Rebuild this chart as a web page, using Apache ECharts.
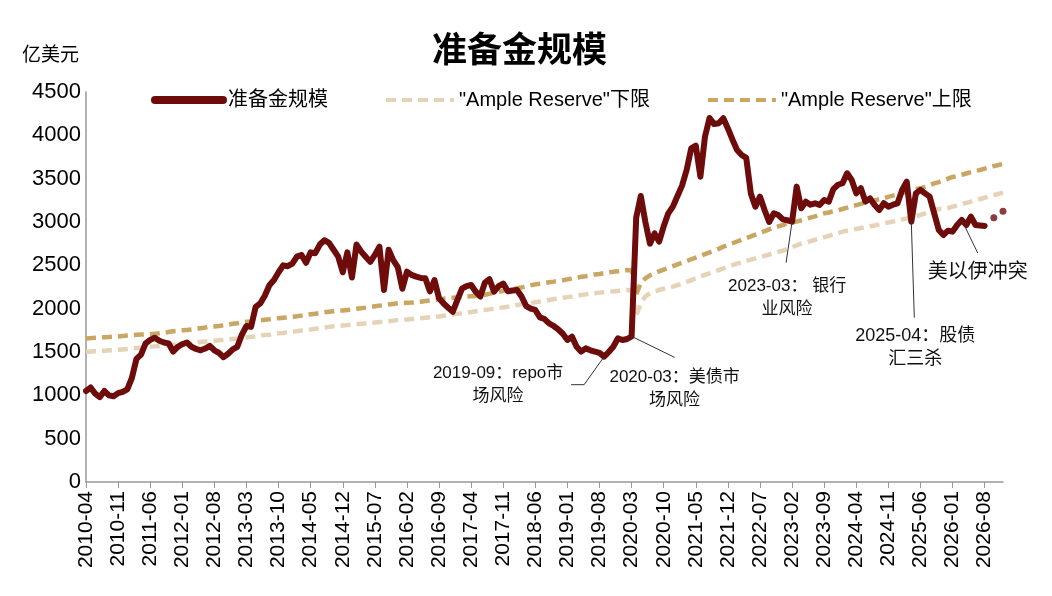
<!DOCTYPE html>
<html>
<head>
<meta charset="utf-8">
<script src="https://cdn.jsdelivr.net/npm/echarts@6/dist/echarts.min.js"></script>
<style>
  html, body { margin: 0; padding: 0; background: #fff; }
  #chart { width: 1052px; height: 596px; }
</style>
</head>
<body>
<div id="chart"></div>
<script>
// 月度类目 2010-04 ~ 2026-12
var months = [];
for (var y = 2010; y <= 2026; y++) {
    for (var mo = 1; mo <= 12; mo++) {
        if (y == 2010 && mo < 4) continue;
        months.push(y + '-' + (mo < 10 ? '0' + mo : mo));
    }
}

var yTicks = [0, 500, 1000, 1500, 2000, 2500, 3000, 3500, 4000, 4500];

// 准备金规模（亿美元）
var reserves = [
    1050, 1090, 1020, 980, 1050, 1000, 990, 1025, 1040, 1070,
    1200, 1420, 1470, 1600, 1640, 1665, 1630, 1610, 1600, 1505,
    1560, 1590, 1610, 1560, 1535, 1520, 1540, 1570, 1520, 1490,
    1440, 1480, 1530, 1560, 1700, 1800, 1790, 2020, 2060, 2150,
    2270, 2330, 2420, 2500, 2490, 2520, 2600, 2620, 2530, 2650,
    2640, 2740, 2790, 2760, 2680, 2600, 2420, 2650, 2360, 2740,
    2660, 2600, 2540, 2620, 2715, 2216, 2680, 2560, 2480, 2230,
    2427, 2390, 2370, 2355, 2350, 2200, 2330, 2120, 2060, 2010,
    1965, 2100, 2230, 2260, 2273, 2196, 2140, 2300, 2340, 2196,
    2260, 2290, 2200, 2210, 2216, 2140, 2030, 2000, 1985, 1900,
    1880, 1830, 1800, 1760, 1710, 1639, 1677, 1560, 1504, 1542,
    1520, 1504, 1490, 1446, 1500, 1560, 1658, 1639, 1650, 1680,
    3050, 3300, 3000, 2750, 2869, 2773, 2950, 3100, 3177, 3300,
    3420, 3600, 3850, 3880, 3523, 3985, 4200, 4130, 4139, 4197,
    4080, 3950, 3831, 3774, 3740, 3330, 3177, 3293, 3139, 3000,
    3100, 3080, 3030, 3020, 3004, 3408, 3158, 3235, 3200, 3216,
    3196, 3254, 3235, 3380, 3430, 3447, 3562, 3485, 3331, 3389,
    3235, 3273, 3196, 3139, 3216, 3177, 3200, 3216, 3370, 3466,
    3004, 3331, 3370, 3330, 3293, 3100, 2908, 2850, 2900, 2889,
    2966, 3023, 2966, 3062, 2966, 2960, 2954, null, null, null,
    null
];

// 预测点
var forecast = [];
forecast[198] = 3050;
forecast[200] = 3125;

// "Ample Reserve"下限
var lowerBound = [
    1500, 1505, 1510, 1512, 1515, 1520, 1522, 1525, 1530, 1535,
    1540, 1545, 1550, 1555, 1560, 1565, 1570, 1575, 1580, 1585,
    1590, 1598, 1600, 1605, 1610, 1615, 1620, 1625, 1630, 1635,
    1640, 1645, 1650, 1655, 1662, 1668, 1675, 1680, 1688, 1695,
    1700, 1708, 1715, 1720, 1728, 1735, 1740, 1748, 1755, 1760,
    1768, 1775, 1782, 1790, 1798, 1800, 1805, 1810, 1815, 1820,
    1825, 1830, 1835, 1840, 1845, 1850, 1855, 1862, 1868, 1870,
    1875, 1880, 1885, 1890, 1895, 1900, 1905, 1910, 1918, 1925,
    1932, 1940, 1948, 1955, 1962, 1970, 1978, 1985, 1992, 2000,
    2008, 2015, 2022, 2030, 2043, 2050, 2058, 2066, 2075, 2083,
    2092, 2100, 2108, 2116, 2125, 2133, 2141, 2150, 2158, 2165,
    2172, 2178, 2185, 2190, 2195, 2200, 2205, 2210, 2216, 2210,
    1920, 2060, 2140, 2180, 2200, 2215, 2230, 2245, 2254, 2272,
    2290, 2310, 2330, 2350, 2370, 2389, 2408, 2427, 2446, 2465,
    2484, 2503, 2520, 2535, 2550, 2565, 2580, 2595, 2610, 2625,
    2640, 2655, 2670, 2690, 2710, 2730, 2750, 2765, 2780, 2795,
    2810, 2825, 2840, 2855, 2870, 2889, 2900, 2910, 2920, 2930,
    2940, 2950, 2960, 2972, 2985, 2995, 3005, 3018, 3030, 3042,
    3055, 3068, 3081, 3100, 3120, 3139, 3150, 3150, 3160, 3177,
    3190, 3205, 3220, 3235, 3250, 3265, 3280, 3295, 3310, 3325,
    3339
];

// "Ample Reserve"上限
var upperBound = [
    1655, 1660, 1665, 1668, 1670, 1672, 1676, 1680, 1685, 1690,
    1695, 1700, 1702, 1704, 1706, 1710, 1715, 1720, 1730, 1740,
    1745, 1750, 1755, 1760, 1768, 1775, 1782, 1790, 1795, 1800,
    1808, 1815, 1825, 1832, 1840, 1848, 1852, 1858, 1865, 1872,
    1878, 1885, 1890, 1895, 1900, 1906, 1912, 1920, 1928, 1935,
    1942, 1950, 1958, 1965, 1970, 1975, 1980, 1985, 1990, 1998,
    2005, 2012, 2020, 2028, 2035, 2040, 2048, 2055, 2062, 2065,
    2068, 2070, 2075, 2080, 2088, 2095, 2102, 2110, 2115, 2120,
    2125, 2130, 2135, 2140, 2143, 2146, 2150, 2160, 2172, 2185,
    2195, 2205, 2215, 2225, 2235, 2245, 2258, 2270, 2280, 2288,
    2295, 2305, 2312, 2320, 2328, 2338, 2348, 2358, 2368, 2375,
    2385, 2395, 2400, 2410, 2420, 2425, 2432, 2440, 2446, 2440,
    2160, 2300, 2350, 2385, 2410, 2430, 2450, 2470, 2490, 2510,
    2530, 2550, 2570, 2590, 2610, 2630, 2650, 2670, 2690, 2715,
    2735, 2755, 2775, 2795, 2815, 2835, 2855, 2875, 2895, 2915,
    2935, 2950, 2965, 2985, 2995, 3005, 3020, 3035, 3050, 3065,
    3085, 3100, 3110, 3125, 3135, 3150, 3165, 3180, 3195, 3210,
    3225, 3240, 3250, 3262, 3273, 3290, 3305, 3320, 3335, 3350,
    3365, 3378, 3389, 3405, 3425, 3445, 3460, 3480, 3500, 3520,
    3530, 3545, 3560, 3575, 3590, 3600, 3615, 3630, 3645, 3658,
    3670
];

// 事件标注：锚点月份，引线（像素偏移），文字中心偏移
var notes = [
    { month: '2019-09', path: [[0, 0], [-20, 28], [-33, 28]], text: '2019-09：repo市\n场风险', dx: -106, dy: 28, size: 17 },
    { month: '2020-03', path: [[0, 0], [43, 21]], text: '2020-03：美债市\n场风险', dx: 43, dy: 52, size: 17 },
    { month: '2023-02', path: [[0, 0], [-6, 41]], text: '2023-03： 银行\n业风险', dx: -5, dy: 76, size: 17 },
    { month: '2025-04', path: [[0, 0], [3, 96]], text: '2025-04：股债\n汇三杀', dx: 4, dy: 126, size: 18 },
    { month: '2026-03', path: [[0, 0], [16, 33]], text: '美以伊冲突', dx: 16, dy: 52, size: 20 }
];

var FONT = '"Liberation Sans", "Noto Sans CJK SC", sans-serif';
var myChart = echarts.init(document.getElementById('chart'));

var option = {
    backgroundColor: '#fff',
    animation: false,
    title: {
        text: '准备金规模',
        left: 427,
        top: 26,
        textStyle: { fontSize: 35, fontWeight: 'bold', color: '#000', fontFamily: '"Noto Sans CJK SC", sans-serif' }
    },
    legend: {
        data: [
            { name: '准备金规模', lineStyle: { width: 8, cap: 'round' } },
            { name: '"Ample Reserve"下限', lineStyle: { width: 4 } },
            { name: '"Ample Reserve"上限', lineStyle: { width: 4 } }
        ],
        left: 146,
        top: 85,
        itemWidth: 68,
        itemHeight: 14,
        itemGap: 56,
        itemStyle: { opacity: 0 },
        textStyle: { fontSize: 20, color: '#000', fontFamily: FONT, padding: [0, 0, 0, 0] }
    },
    grid: { left: 86, right: 49, top: 92, bottom: 114 },
    xAxis: {
        type: 'category',
        data: months,
        boundaryGap: false,
        axisLine: { lineStyle: { color: '#999', width: 1.5 } },
        axisTick: { interval: 6, length: 6, lineStyle: { color: '#999' } },
        axisLabel: {
            interval: 6,
            rotate: 90,
            margin: 9,
            fontSize: 21,
            color: '#000',
            fontFamily: FONT
        },
        splitLine: { show: false }
    },
    yAxis: {
        type: 'value',
        min: yTicks[0],
        max: yTicks[yTicks.length - 1],
        interval: 500,
        axisLine: { show: true, lineStyle: { color: '#999', width: 1.5 } },
        axisTick: { show: false },
        axisLabel: {
            margin: 5,
            fontSize: 22,
            color: '#000',
            fontFamily: FONT,
            formatter: function (v) { return String(v); }
        },
        splitLine: { show: false }
    },
    graphic: [{
        type: 'text',
        left: 22,
        top: 44,
        style: { text: '亿美元', fill: '#000', font: '19px "Noto Sans CJK SC", sans-serif' }
    }],
    series: [
        {
            name: '"Ample Reserve"下限',
            type: 'line',
            data: lowerBound,
            symbol: 'none',
            z: 2,
            lineStyle: { color: '#E5D3B8', width: 4.5, type: [10, 6] },
            itemStyle: { color: '#E5D3B8' }
        },
        {
            name: '"Ample Reserve"上限',
            type: 'line',
            data: upperBound,
            symbol: 'none',
            z: 3,
            lineStyle: { color: '#C9A662', width: 4.5, type: [10, 6] },
            itemStyle: { color: '#C9A662' }
        },
        {
            name: '准备金规模',
            type: 'line',
            data: reserves,
            symbol: 'none',
            z: 4,
            lineStyle: { color: '#6E0B0B', width: 6, join: 'round', cap: 'round' },
            itemStyle: { color: '#6E0B0B' }
        },
        {
            name: '预测',
            type: 'scatter',
            data: forecast,
            symbolSize: 7,
            z: 4,
            itemStyle: { color: '#6E0B0B' }
        }
    ]
};

myChart.setOption(option);

// 标注引线与文字
function drawNotes() {
    var elems = option.graphic.slice();
    for (var i = 0; i < notes.length; i++) {
        var n = notes[i];
        var idx = months.indexOf(n.month);
        var p = myChart.convertToPixel({ xAxisIndex: 0, yAxisIndex: 0 }, [idx, reserves[idx]]);
        var pts = [];
        for (var k = 0; k < n.path.length; k++) {
            pts.push([p[0] + n.path[k][0], p[1] + n.path[k][1]]);
        }
        elems.push({
            type: 'polyline',
            z: 10,
            shape: { points: pts },
            style: { stroke: '#333', lineWidth: 1, fill: null }
        });
        elems.push({
            type: 'text',
            z: 10,
            x: p[0] + n.dx,
            y: p[1] + n.dy,
            style: {
                text: n.text,
                fill: '#111',
                font: n.size + 'px "Liberation Sans", "Noto Sans CJK SC", sans-serif',
                align: 'center',
                verticalAlign: 'middle',
                lineHeight: 23
            }
        });
    }
    myChart.setOption({ graphic: elems });
}
drawNotes();
</script>
</body>
</html>
